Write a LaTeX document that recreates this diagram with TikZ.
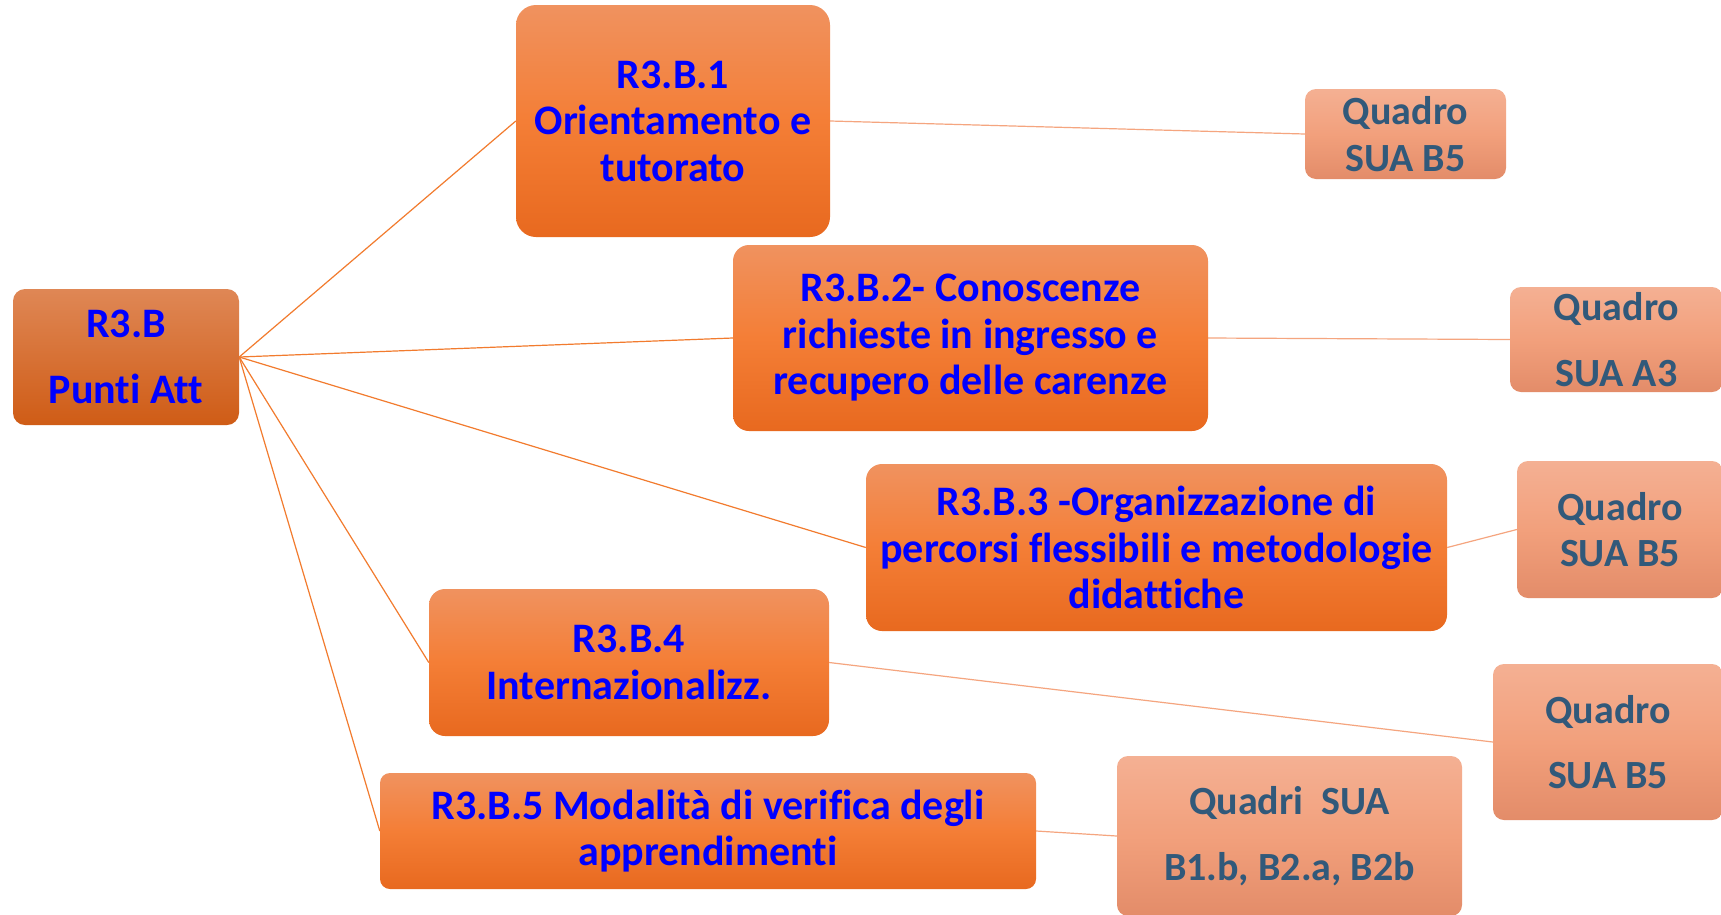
\documentclass[tikz,border=0pt]{standalone}
\usepackage{fontspec}
\setmainfont[Ligatures={NoCommon}]{Carlito}
\usetikzlibrary{backgrounds}
\definecolor{txtblue}{HTML}{0000FF}
\definecolor{txtslate}{HTML}{31597A}
\definecolor{rootTop}{HTML}{DF8755}
\definecolor{rootBot}{HTML}{CF5C16}
\definecolor{mTop}{HTML}{F0925F}
\definecolor{mMid}{HTML}{F47E36}
\definecolor{mBot}{HTML}{E8691F}
\definecolor{qTop}{HTML}{F4B093}
\definecolor{qMid}{HTML}{F2A07C}
\definecolor{qBot}{HTML}{E38C69}
\definecolor{lineA}{HTML}{F27B2E}
\definecolor{lineB}{HTML}{F5A57F}
\tikzset{
  bigfont/.style={font=\fontsize{42}{46.5}\selectfont\bfseries},
  rootbox/.style={rounded corners=12pt, top color=rootTop, bottom color=rootBot, draw=none,
     inner sep=0pt, align=center, text=txtblue, bigfont},
  mainbox/.style={rounded corners=16pt, top color=mTop, bottom color=mBot, middle color=mMid, draw=none,
     inner sep=0pt, align=center, text=txtblue, bigfont},
  quadbox/.style={rounded corners=11pt, top color=qTop, bottom color=qBot, middle color=qMid, draw=none,
     inner sep=0pt, align=center, text=txtslate, font=\fontsize{40}{46.5}\selectfont\bfseries},
  linkA/.style={draw=lineA, line width=1.2pt},
  linkB/.style={draw=lineB, line width=1.2pt},
}
\begin{document}
\begin{tikzpicture}[x=1pt,y=-1pt]
\useasboundingbox (0,0) rectangle (1721,914);

\node[rootbox, minimum width=226pt, minimum height=136pt] (root) at (126,357) {R3.B\\[20pt]Punti Att};

\node[mainbox, minimum width=314pt, minimum height=232pt, rounded corners=20pt] (b1) at (673,121) {R3.B.1\\Orientamento e\\tutorato};
\node[mainbox, minimum width=475pt, minimum height=186pt] (b2) at (970.5,338) {R3.B.2- Conoscenze\\richieste in ingresso e\\recupero delle carenze};
\node[mainbox, minimum width=581pt, minimum height=167pt] (b3) at (1156.5,547.5) {R3.B.3 -Organizzazione di\\percorsi flessibili e metodologie\\didattiche};
\node[mainbox, minimum width=400pt, minimum height=147pt] (b4) at (629,662.5) {R3.B.4\\Internazionalizz.};
\node[mainbox, minimum width=656pt, minimum height=116pt, rounded corners=10pt] (b5) at (708,831) {R3.B.5 Modalità di verifica degli\\apprendimenti};

\node[quadbox, minimum width=201pt, minimum height=90pt] (q1) at (1405.5,134) {Quadro\\SUA B5};
\node[quadbox, minimum width=213pt, minimum height=105pt] (q2) at (1616.5,339.5) {Quadro\\[19pt]SUA A3};
\node[quadbox, minimum width=206pt, minimum height=137pt] (q3) at (1620,529.5) {Quadro\\SUA B5};
\node[quadbox, minimum width=230pt, minimum height=156pt] (q4) at (1608,742) {Quadro\\[19pt]SUA B5};
\node[quadbox, minimum width=345pt, minimum height=160pt] (q5) at (1289.5,836) {Quadri\ \ SUA\\[19pt]B1.b, B2.a, B2b};

\begin{scope}[on background layer]
\fill[white] (0,0) rectangle (1721,914);
\draw[linkA] (root.east) -- (b1.west);
\draw[linkA] (root.east) -- (b2.west);
\draw[linkA] (root.east) -- (b3.west);
\draw[linkA] (root.east) -- (b4.west);
\draw[linkA] (root.east) -- (b5.west);
\draw[linkB] (b1.east) -- (q1.west);
\draw[linkB] (b2.east) -- (q2.west);
\draw[linkB] (b3.east) -- (q3.west);
\draw[linkB] (b4.east) -- (q4.west);
\draw[linkB] (b5.east) -- (q5.west);
\end{scope}
\end{tikzpicture}
\end{document}
